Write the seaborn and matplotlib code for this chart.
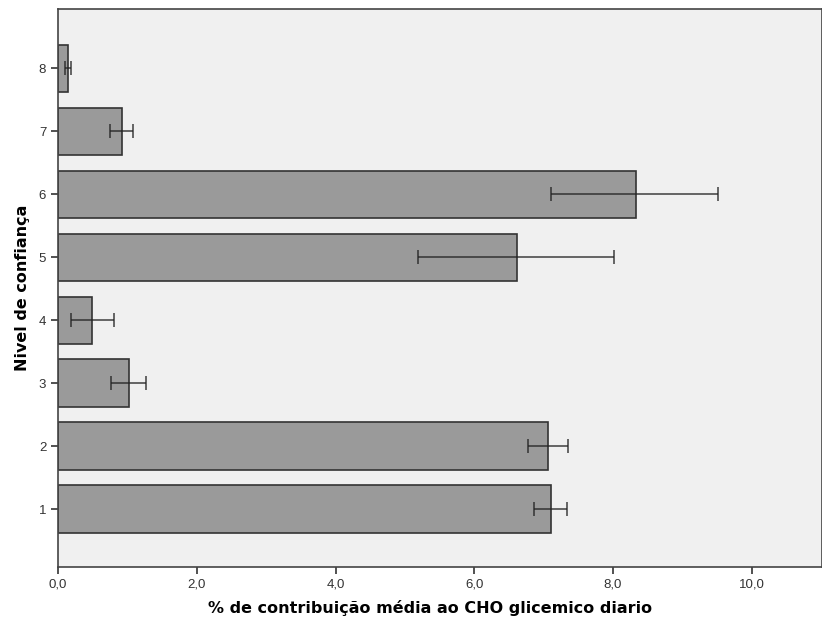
import numpy as np
import pandas as pd
import matplotlib
matplotlib.use("Agg")
import matplotlib.pyplot as plt
from matplotlib.ticker import FuncFormatter
import seaborn as sns

# =========================
# DATA
# =========================
niveis = ["8", "7", "6", "5", "4", "3", "2", "1"]
media = [0.15, 0.92, 8.33, 6.61, 0.49, 1.02, 7.07, 7.10]
ic_inf = [0.10, 0.75, 7.11, 5.19, 0.19, 0.76, 6.78, 6.86]
ic_sup = [0.19, 1.08, 9.52, 8.02, 0.81, 1.27, 7.35, 7.33]

df = pd.DataFrame({"nivel": niveis, "media": media})

sns.set_style("ticks")
plt.rcParams["font.family"] = ["Liberation Sans", "DejaVu Sans"]

fig = plt.figure(figsize=(8.22, 6.3), dpi=100)
ax = fig.add_axes([0.0706, 0.1, 0.93, 0.8857])
ax.set_facecolor("#F0F0F0")

sns.barplot(data=df, x="media", y="nivel", order=niveis, orient="h",
            color="#9A9A9A", edgecolor="#333333", linewidth=1.2,
            width=0.75, saturation=1, errorbar=None, ax=ax)

# confidence interval bars
media_a = np.array(media)
xerr = np.vstack([media_a - np.array(ic_inf), np.array(ic_sup) - media_a])
ax.errorbar(media_a, np.arange(len(niveis)), xerr=xerr, fmt="none",
            ecolor="#222222", elinewidth=1.2, capsize=5, capthick=1.2, alpha=0.8)

ax.set_xlim(0, 11.02)
ax.set_ylim(7.92, -0.94)
ax.xaxis.set_major_formatter(FuncFormatter(lambda v, p: f"{v:.1f}".replace(".", ",")))
ax.set_xticks([0, 2, 4, 6, 8, 10])

for s in ax.spines.values():
    s.set_color("#444444")
    s.set_linewidth(1.2)

ax.tick_params(axis="both", colors="#333333", labelsize=9.5, length=5, width=1.2)
ax.set_xlabel("% de contribuição média ao CHO glicemico diario", color="black",
              fontsize=11.5, fontweight="bold", family="DejaVu Sans")
ax.set_ylabel("Nivel de confiança", fontsize=11.5, fontweight="bold", color="black",
              family="DejaVu Sans", labelpad=6)
ax.xaxis.set_label_coords(0.487, -0.06)

fig.savefig("out.png", dpi=100)
